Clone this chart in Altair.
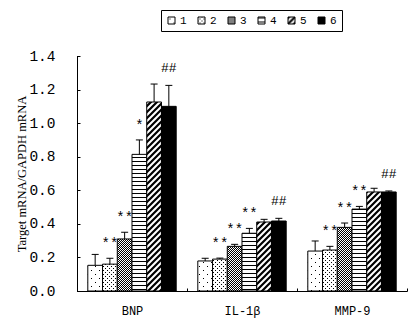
import altair as alt
import pandas as pd
import jinja2
from altair.utils import html as _alt_html

# ---------------- data ----------------
categories = ["BNP", "IL-1β", "MMP-9"]
groups = ["1", "2", "3", "4", "5", "6"]

bnp_mean = [0.153, 0.160, 0.310, 0.814, 1.126, 1.100]
bnp_err = [0.065, 0.035, 0.040, 0.086, 0.107, 0.125]
il1b_mean = [0.179, 0.190, 0.266, 0.344, 0.411, 0.417]
il1b_err = [0.016, 0.006, 0.012, 0.029, 0.016, 0.016]
mmp9_mean = [0.238, 0.244, 0.379, 0.488, 0.590, 0.590]
mmp9_err = [0.060, 0.022, 0.026, 0.016, 0.022, 0.006]

bnp_marks = ["", "**", "**", "*", "", "##"]
il1b_marks = ["", "**", "**", "**", "", "##"]
mmp9_marks = ["", "**", "**", "**", "", "##"]

y_ticks = [0.0, 0.2, 0.4, 0.6, 0.8, 1.0, 1.2, 1.4]
y_title = "Target mRNA/GAPDH mRNA"

# ---------------- table ----------------
rows = []
for cat, means, errs, marks in [
    ("BNP", bnp_mean, bnp_err, bnp_marks),
    ("IL-1β", il1b_mean, il1b_err, il1b_marks),
    ("MMP-9", mmp9_mean, mmp9_err, mmp9_marks),
]:
    for g, m, e, s in zip(groups, means, errs, marks):
        rows.append({"category": cat, "group": g, "mean": m, "top": m + e, "mark": s})
df = pd.DataFrame(rows)
stars = df[df["mark"].str.contains(r"\*")]
hashes = df[df["mark"] == "##"]

fills = ["url(#p1)", "url(#p2)", "url(#p3)", "url(#p4)", "url(#p5)", "black"]

# ---------------- shared encodings ----------------
x_enc = alt.X(
    "category:N",
    sort=categories,
    scale=alt.Scale(domain=categories, paddingInner=0, paddingOuter=0),
    axis=alt.Axis(
        title=None, labelAngle=0, tickBand="extent", offset=-3, tickSize=3,
        domain=False, grid=False, labelPadding=14, labelFont="Liberation Mono",
        labelFontSize=12, labelColor="black", tickColor="black",
    ),
)
xoff_enc = alt.XOffset(
    "group:N", sort=groups,
    scale=alt.Scale(domain=groups, paddingInner=0, paddingOuter=0.733),
)
y_scale = alt.Scale(domain=[0, 1.4], nice=False, zero=True)
y_axis = alt.Axis(
    title=y_title, values=y_ticks, format=".1f", offset=-3, tickSize=3,
    domain=False, grid=False, labelPadding=22, labelFont="Liberation Mono",
    labelFontSize=14.5, labelColor="black", tickColor="black",
    titleFont="Liberation Serif", titleFontSize=12.5, titleFontWeight="normal",
    titleColor="black", titlePadding=0,
)


def y_of(field):
    return alt.Y(field + ":Q", scale=y_scale, axis=y_axis)


bars = alt.Chart(df).mark_bar(stroke="black", strokeWidth=1, opacity=1).encode(
    x=x_enc,
    xOffset=xoff_enc,
    y=y_of("mean"),
    fill=alt.Fill(
        "group:N", sort=groups,
        scale=alt.Scale(domain=groups, range=fills),
        legend=alt.Legend(
            title=None, orient="none", legendX=84, legendY=-46,
            direction="horizontal", columns=6, strokeColor="black",
            fillColor="white", padding=5, symbolType="square", symbolSize=49,
            symbolStrokeColor="black", symbolStrokeWidth=1,
            labelFont="Liberation Mono", labelFontSize=11, labelColor="black",
            labelOffset=3, columnPadding=9,
        ),
    ),
)

err_lines = alt.Chart(df).mark_rule(color="black", strokeWidth=1).encode(
    x=x_enc, xOffset=xoff_enc, y=y_of("mean"), y2="top:Q"
)
err_caps = alt.Chart(df).mark_tick(color="black", size=7, thickness=1, opacity=1).encode(
    x=x_enc, xOffset=xoff_enc, y=y_of("top")
)
star_text = alt.Chart(stars).mark_text(
    font="Liberation Mono", fontSize=14, color="black", baseline="alphabetic", dy=-10
).encode(x=x_enc, xOffset=xoff_enc, y=y_of("top"), text="mark:N")
hash_text = alt.Chart(hashes).mark_text(
    font="Liberation Mono", fontSize=13, color="black", baseline="alphabetic", dy=-13
).encode(x=x_enc, xOffset=xoff_enc, y=y_of("top"), text="mark:N")

one = pd.DataFrame({"k": [0]})
y_line = alt.Chart(one).mark_rule(color="black", strokeWidth=1).encode(
    x=alt.value(0.5), y=alt.value(0), y2=alt.value(235.5)
)
x_line = alt.Chart(one).mark_rule(color="black", strokeWidth=1).encode(
    x=alt.value(0), x2=alt.value(330.5), y=alt.value(235.5)
)

chart = alt.layer(
    bars, err_lines, err_caps, star_text, hash_text, y_line, x_line
).properties(
    width=330, height=235,
    padding={"left": 77, "top": 56, "right": 6, "bottom": 30},
    autosize=alt.AutoSizeParams(type="none"),
    background="white",
).configure_view(stroke=None)

# ---------------- page with fill patterns ----------------
PATTERN_DEFS = (
    '<svg width="0" height="0" style="position:absolute;left:0;top:0;overflow:hidden" aria-hidden="true"><defs>'
    '<pattern id="p1" width="8" height="8" patternUnits="userSpaceOnUse" shape-rendering="crispEdges">'
    '<rect width="8" height="8" fill="#fff"/><rect x="2" y="2" width="1" height="1" fill="#000"/>'
    '<rect x="6" y="6" width="1" height="1" fill="#000"/></pattern>'
    '<pattern id="p2" width="4" height="4" patternUnits="userSpaceOnUse" shape-rendering="crispEdges">'
    '<rect width="4" height="4" fill="#fff"/><rect x="0" y="0" width="1" height="1" fill="#000"/>'
    '<rect x="2" y="2" width="1" height="1" fill="#000"/></pattern>'
    '<pattern id="p3" width="2" height="2" patternUnits="userSpaceOnUse" shape-rendering="crispEdges">'
    '<rect width="2" height="2" fill="#fff"/><rect x="0" y="0" width="1" height="1" fill="#000"/>'
    '<rect x="1" y="1" width="1" height="1" fill="#000"/></pattern>'
    '<pattern id="p4" width="4" height="4" patternUnits="userSpaceOnUse" shape-rendering="crispEdges">'
    '<rect width="4" height="4" fill="#fff"/><rect x="0" y="1" width="4" height="1" fill="#000"/></pattern>'
    '<pattern id="p5" width="6" height="6" patternUnits="userSpaceOnUse">'
    '<rect width="6" height="6" fill="#fff"/>'
    '<path d="M-1,7 L7,-1 M-4,4 L4,-4 M2,10 L10,2" stroke="#000" stroke-width="2.2"/></pattern>'
    '</defs></svg>'
)


class PatternPage(jinja2.Template):
    def render(self, *args, **kwargs):
        base = getattr(_alt_html, "TEMPLATES", {}).get("standard", None)
        if base is None:
            base = _alt_html.HTML_TEMPLATE
        page = base.render(*args, **kwargs)
        if "<body>" in page:
            return page.replace("<body>", "<body>\n" + PATTERN_DEFS, 1)
        return PATTERN_DEFS + page


page_template = PatternPage("")

chart.save("out.html", embed_options={"renderer": "svg", "actions": False}, template=page_template)
